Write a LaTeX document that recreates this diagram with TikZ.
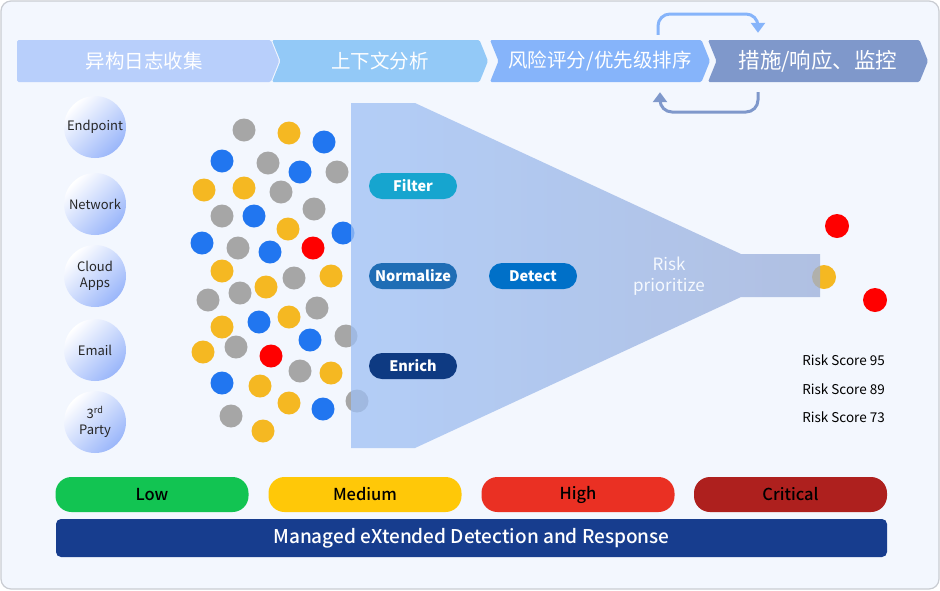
\documentclass[tikz,border=0pt]{standalone}
\usepackage{fontspec}
\setmainfont{Noto Sans CJK SC}
\newfontfamily\medfont{Noto Sans CJK SC Medium}
\usepackage{tikz}
\usetikzlibrary{shapes.geometric,shapes.symbols,arrows.meta,positioning}

\begin{document}
\begin{tikzpicture}[x=1pt, y=-1pt, font=\fontsize{12}{14}\selectfont]

        \useasboundingbox (0,0) rectangle (940,590);
        \definecolor{panelbg}{HTML}{F3F7FE}
        \definecolor{panelrim}{HTML}{C9CCD2}
        \definecolor{stageone}{HTML}{B8CFFB}
        \definecolor{stagetwo}{HTML}{93C9F7}
        \definecolor{stagethree}{HTML}{86B4FA}
        \definecolor{stagefour}{HTML}{7F98CB}
        \definecolor{srcblue}{HTML}{9AB6FA}
        \definecolor{dotgray}{HTML}{A6A6A6}
        \definecolor{dotyellow}{HTML}{F5B822}
        \definecolor{dotblue}{HTML}{2176F0}
        \definecolor{dotred}{HTML}{FF0000}
        \definecolor{funnelleft}{HTML}{9EC0F5}
        \definecolor{funnelright}{HTML}{9AAED9}
        \definecolor{filterteal}{HTML}{16A5CF}
        \definecolor{normblue}{HTML}{1F6DB5}
        \definecolor{detectblue}{HTML}{0070C8}
        \definecolor{enrichnavy}{HTML}{0E3A82}
        \definecolor{lowgreen}{HTML}{12C452}
        \definecolor{medyellow}{HTML}{FFC808}
        \definecolor{highred}{HTML}{EA3023}
        \definecolor{critred}{HTML}{AE201E}
        \definecolor{mxdrnavy}{HTML}{173D8E}
        \tikzset{
            stagebox/.style={shape=signal, signal to=east, signal from=west, signal pointer angle=136, rounded corners=1.5pt, minimum height=42pt, inner sep=0pt, text=white, font=\fontsize{19.5}{22}\selectfont},
            srcball/.style={circle, minimum size=62pt, inner sep=0pt, top color=white, bottom color=srcblue, shading angle=45, align=center, text=black!85, font=\fontsize{13}{16.5}\selectfont},
            stagepill/.style={rounded corners=13pt, minimum width=88pt, minimum height=26pt, inner sep=0pt, text=white, font=\bfseries\fontsize{14.5}{16}\selectfont},
            riskband/.style={rounded corners=16pt, minimum width=193pt, minimum height=35pt, inner sep=0pt, text=black, font=\medfont\fontsize{16.5}{18}\selectfont},
            scoretext/.style={anchor=east, inner sep=0pt, text=black, font=\fontsize{13.5}{15}\selectfont},
            feedback/.style={-{Triangle[width=14pt,length=10pt]}, line width=3pt, rounded corners=12pt}
        }

        \filldraw[fill=panelbg, draw=panelrim, line width=1.2pt, rounded corners=10pt] (1,1) rectangle (939,589);


        \node[stagebox, signal from=nowhere, fill=stageone, minimum width=262pt] (collect) at (144,61) {异构日志收集};
        \node[stagebox, fill=stagetwo, minimum width=216pt] (context) at (380,61) {上下文分析};
        \node[stagebox, fill=stagethree, minimum width=220pt] (scoring) at (600,61) {风险评分/优先级排序};
        \node[stagebox, fill=stagefour, minimum width=220pt, font=\fontsize{21.5}{24}\selectfont] (response) at (818,61) {措施/响应、监控};

        \draw[feedback, stagethree, shorten <=5pt, shorten >=7pt] (scoring.north -| 658,0) |- (758,14) -- (response.north -| 758,0);
        \draw[feedback, stagefour, shorten <=10pt, shorten >=10pt] (response.south -| 758,0) |- (660,112) -- (scoring.south -| 660,0);


        \node[srcball] (src_endpoint) at (95,127) {Endpoint};
        \node[srcball] (src_network) at (95,204) {Network};
        \node[srcball] (src_cloud) at (95,276) {Cloud\\Apps};
        \node[srcball] (src_email) at (95,350) {Email};
        \node[srcball] (src_third) at (95,422) {3\textsuperscript{rd}\\Party};


        % raw events
        \fill[dotgray] (244,130) circle (11.5pt) (268,163) circle (11.5pt) (337,172) circle (11.5pt) (281,192) circle (11.5pt)
            (222,216) circle (11.5pt) (314,209) circle (11.5pt) (238,248) circle (11.5pt) (294,278) circle (11.5pt)
            (208,300) circle (11.5pt) (240,293) circle (11.5pt) (317,308) circle (11.5pt) (346,336) circle (11.5pt)
            (236,347) circle (11.5pt) (300,371) circle (11.5pt) (357,401) circle (11.5pt) (231,416) circle (11.5pt);
        \fill[dotyellow] (289,133) circle (11.5pt) (204,190) circle (11.5pt) (244,188) circle (11.5pt) (288,229) circle (11.5pt)
            (222,271) circle (11.5pt) (331,276) circle (11.5pt) (266,287) circle (11.5pt) (222,327) circle (11.5pt)
            (289,317) circle (11.5pt) (203,352) circle (11.5pt) (331,373) circle (11.5pt) (260,386) circle (11.5pt)
            (289,403) circle (11.5pt) (263,431) circle (11.5pt) (824,277) circle (12pt);
        \fill[dotblue] (324,142) circle (11.5pt) (222,161) circle (11.5pt) (300,172) circle (11.5pt) (254,216) circle (11.5pt)
            (343,233) circle (11.5pt) (202,243) circle (11.5pt) (270,252) circle (11.5pt) (259,322) circle (11.5pt)
            (310,340) circle (11.5pt) (222,383) circle (11.5pt) (323,409) circle (11.5pt);
        \fill[dotred] (313,248) circle (11.5pt) (271,356) circle (11.5pt);


        % funnel
        \path[left color=funnelleft, right color=funnelright, fill opacity=0.75]
            (351,103) -- (415,103) -- (741,254) -- (820,254) -- (820,297) -- (741,297) -- (415,448) -- (351,448) -- cycle;

        \node[stagepill, fill=filterteal] (filter) at (413,186) {Filter};
        \node[stagepill, fill=normblue] (normalize) at (413,276) {Normalize};
        \node[stagepill, fill=detectblue] (detect) at (533,276) {Detect};
        \node[stagepill, fill=enrichnavy] (enrich) at (413,366) {Enrich};
        \node[text=white!92!stagethree, align=center, font=\fontsize{17}{21}\selectfont] (funnel_label) at (669,276) {Risk\\prioritize};


        \fill[dotred] (837,226) circle (12pt) (875,300) circle (12pt);
        \node[scoretext] (score_95) at (885,360) {Risk Score 95};
        \node[scoretext] (score_89) at (885,389) {Risk Score 89};
        \node[scoretext] (score_73) at (885,417) {Risk Score 73};


        \node[riskband, fill=lowgreen] (band_low) at (152,494.5) {Low};
        \node[riskband, fill=medyellow] (band_medium) at (365,494.5) {Medium};
        \node[riskband, fill=highred] (band_high) at (578,494.5) {High};
        \node[riskband, fill=critred] (band_critical) at (790.5,494.5) {Critical};
        \node[rounded corners=5pt, fill=mxdrnavy, minimum width=831pt, minimum height=38pt, text=white, font=\medfont\fontsize{19}{21}\selectfont] (mxdr) at (471.5,538) {Managed eXtended Detection and Response};

    \end{tikzpicture}
\end{document}
